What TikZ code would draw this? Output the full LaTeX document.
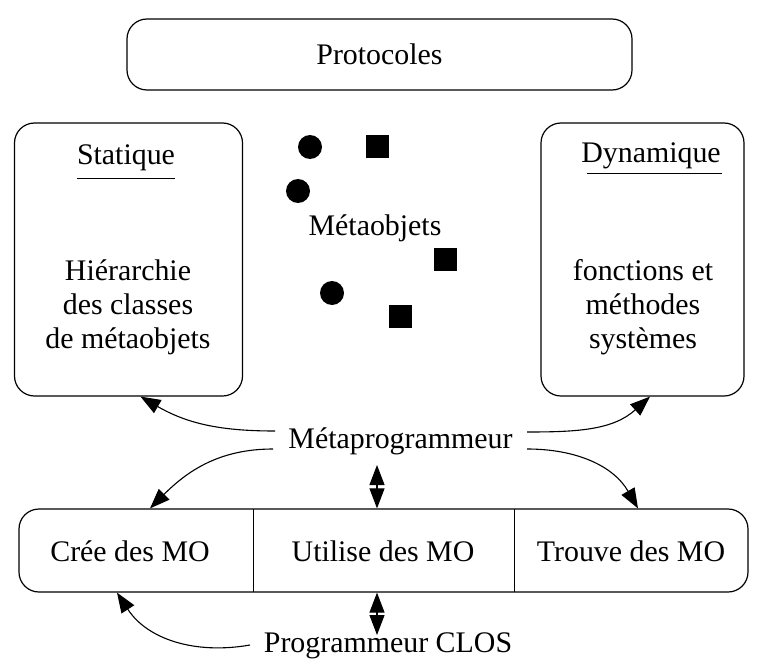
\documentclass[tikz,border=0pt]{standalone}
\usepackage{fontspec}
\setmainfont{Liberation Serif}
\usetikzlibrary{arrows.meta}

\begin{document}
\begin{tikzpicture}[x=1bp,y=1bp,>={Triangle[length=20bp,width=15bp]},
    every node/.style={font=\fontsize{30}{34}\selectfont},
    boite/.style={draw,rounded corners=20bp,line width=1.2bp},
    fleche/.style={->,line width=1.1bp},
    double/.style={<->,line width=1.1bp}]
  \useasboundingbox (0,0) rectangle (759,-664);

  % les protocoles
  \node[boite,minimum width=505bp,minimum height=71bp] (proto) at (379.5,-54.5) {Protocoles};

  % partie statique
  \node[boite,minimum width=228bp,minimum height=273bp] (stat) at (128.5,-259.5) {};
  \node (stattitre) at (126,-158) {Statique};
  \draw[line width=1bp] (77,-178) -- (175,-178);
  \node[align=center] (stattexte) at (128,-307) {Hiérarchie\\des classes\\de métaobjets};

  % partie dynamique
  \node[boite,minimum width=203bp,minimum height=273bp] (dyn) at (642.5,-259.5) {};
  \node (dyntitre) at (651,-156) {Dynamique};
  \draw[line width=1bp] (587,-173) -- (722,-173);
  \node[align=center] (dyntexte) at (643,-307) {fonctions et\\méthodes\\systèmes};

  % les metaobjets
  \node (meta) at (375,-228) {Métaobjets};
  \fill (310,-147) circle (12);
  \fill (298,-191) circle (12);
  \fill (332,-293) circle (12);
  \fill (366,-135) rectangle ++(23,-23);
  \fill (434,-248) rectangle ++(23,-23);
  \fill (389,-305) rectangle ++(23,-23);

  % les outils
  \node[boite,minimum width=729bp,minimum height=83bp] (outils) at (383.5,-550.5) {};
  \draw[line width=1bp] (253,-509) -- (253,-592);
  \draw[line width=1bp] (514,-509) -- (514,-592);
  \node (cree) at (130,-551) {Crée des MO};
  \node (utilise) at (383,-551) {Utilise des MO};
  \node (trouve) at (631,-551) {Trouve des MO};

  % les programmeurs
  \node (mp) at (400.5,-441) {Métaprogrammeur};
  \node (pc) at (388,-646) {Programmeur CLOS};

  \coordinate (mpl1) at (275,-431);
  \coordinate (mpl2) at (273,-449);
  \coordinate (mpr1) at (527,-432);
  \coordinate (mpr2) at (527,-449);
  \coordinate (mpd) at (377,-465);
  \coordinate (pcd) at (377,-635);
  \coordinate (pcl) at (250,-645);

  \draw[fleche] (mpl1) to[out=180,in=-30] ([xshift=12bp]stat.south);
  \draw[fleche] (mpl2) to[out=180,in=45] ([xshift=-233.5bp]outils.north);
  \draw[fleche] (mpr1) to[out=0,in=-138] ([xshift=7.5bp]dyn.south);
  \draw[fleche] (mpr2) to[out=0,in=120] ([xshift=254.5bp]outils.north);
  \draw[double] (mpd) -- (mpd |- outils.north);
  \draw[double] (pcd |- outils.south) -- (pcd);
  \draw[fleche] (pcl) to[out=190,in=-57] ([xshift=-266.5bp]outils.south);
\end{tikzpicture}
\end{document}
